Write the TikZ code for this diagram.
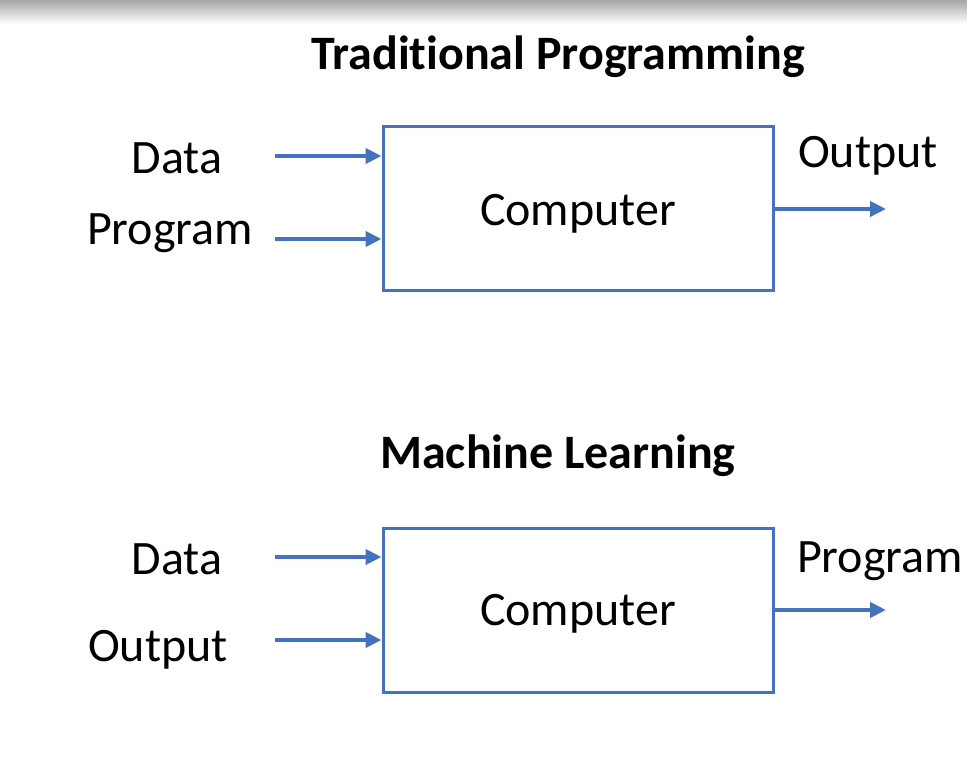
\documentclass[tikz,border=0pt]{standalone}
\usepackage{fontspec}
\setmainfont{Carlito}[Ligatures=NoCommon, RawFeature={-liga;-calt;-dlig;-clig}]
\usetikzlibrary{arrows.meta}
\definecolor{boxblue}{RGB}{68,114,190}
\tikzset{
  box/.style={draw=boxblue, line width=3pt, minimum width=390pt, minimum height=164pt, inner sep=0pt},
  boxtxt/.style={font=\fontsize{48}{56}\selectfont, inner sep=0pt},
  lbl/.style={font=\fontsize{48}{56}\selectfont, inner sep=0pt},
  ttl/.style={font=\bfseries\fontsize{48}{56}\selectfont, inner sep=0pt},
  arr/.style={draw=boxblue, line width=4pt, -{Triangle[length=16pt,width=15pt]}}
}
\begin{document}
\begin{tikzpicture}[x=1pt,y=-1pt]
\useasboundingbox (0,0) rectangle (967,775);
\fill[white] (0,0) rectangle (967,775);
\shade[top color=black!35, bottom color=white] (0,0) rectangle (967,24);
% top
\node[ttl] (t1) at (558,57) {Traditional Programming};
\node[box] (c1) at (578,209) {};
\node[boxtxt] (c1t) at (578,214) {Computer};
\node[lbl] (d1) at (177,158) {Data};
\node[lbl] (p1) at (170,233) {Program};
\node[lbl] (o1) at (868,156) {Output};
\coordinate (d1s) at (275,156);
\coordinate (p1s) at (275,239);
\coordinate (o1e) at (886,209);
\draw[arr] (d1s) -- (d1s -| c1.west);
\draw[arr] (p1s) -- (p1s -| c1.west);
\draw[arr] (c1.east) -- (o1e);
% bottom
\node[ttl] (t2) at (558,456) {Machine Learning};
\node[box] (c2) at (578,610) {};
\node[boxtxt] (c2t) at (578,614) {Computer};
\node[lbl] (d2) at (177,559) {Data};
\node[lbl] (o2) at (158,650) {Output};
\node[lbl] (p2) at (880,561) {Program};
\coordinate (d2s) at (275,557);
\coordinate (o2s) at (275,640);
\coordinate (p2e) at (886,610);
\draw[arr] (d2s) -- (d2s -| c2.west);
\draw[arr] (o2s) -- (o2s -| c2.west);
\draw[arr] (c2.east) -- (p2e);
\end{tikzpicture}
\end{document}
